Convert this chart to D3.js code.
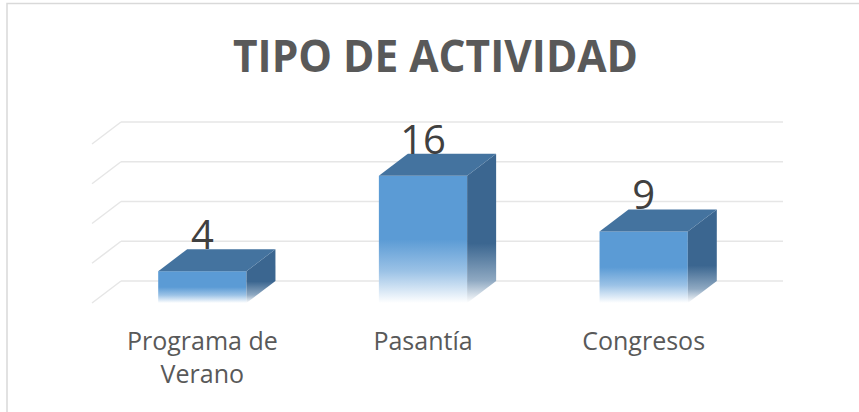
<!DOCTYPE html>
<html>
<head>
<meta charset="utf-8">
<script src="https://cdn.jsdelivr.net/npm/d3@7/dist/d3.min.js"></script>
<style>
  body { margin: 0; background: #fff; }
</style>
</head>
<body>
<div id="chart"></div>
<script>
// Chart data
var title = "TIPO DE ACTIVIDAD";
var categories = ["Programa de Verano", "Pasantía", "Congresos"];
var values = [4, 16, 9];
var gridTicks = [0, 5, 10, 15, 20];

function createBarChart3D() {

const width = 859, height = 412;
// depth offset of the fake 3d box (front face sits lower-left of the back wall)
const depthX = 29, depthY = 22;

var x = d3.scaleBand()
    .domain(categories)
    .range([92, 754])
    .paddingInner(0.6)
    .paddingOuter(0.3);

var y = d3.scaleLinear()
    .domain([0, 20])
    .range([281, 122]);

var svg = d3.select("#chart")
    .append("svg")
    .attr("width", width)
    .attr("height", height);

// Gradients for the faded bottoms
var defs = svg.append("defs");
var front = defs.append("linearGradient")
    .attr("id", "frontFade")
    .attr("x1", 0).attr("y1", 0).attr("x2", 0).attr("y2", 1);
front.append("stop").attr("offset", "0").attr("stop-color", "#5B9BD5");
front.append("stop").attr("offset", "0.5").attr("stop-color", "#5B9BD5");
front.append("stop").attr("offset", "0.75").attr("stop-color", "#9BC2E6");
front.append("stop").attr("offset", "1").attr("stop-color", "#FFFFFF");

var side = defs.append("linearGradient")
    .attr("id", "sideFade")
    .attr("x1", 0).attr("y1", 0).attr("x2", 0).attr("y2", 1);
side.append("stop").attr("offset", "0").attr("stop-color", "#3B6690");
side.append("stop").attr("offset", "0.6").attr("stop-color", "#3B6690");
side.append("stop").attr("offset", "0.85").attr("stop-color", "#8FA9C2");
side.append("stop").attr("offset", "1").attr("stop-color", "#FFFFFF");

// Chart area border (only top and left visible)
svg.append("path")
    .attr("d", "M7,412 L7,3.5 L859,3.5")
    .attr("fill", "none")
    .attr("stroke", "#D9D9D9")
    .attr("stroke-width", 1.5);

// Title
svg.append("text")
    .attr("x", 435.5)
    .attr("y", 72)
    .attr("text-anchor", "middle")
    .text(title)
    .style("font-family", "'Open Sans', sans-serif")
    .style("font-size", "44px")
    .style("font-weight", "bold")
    .style("fill", "#595959")
    .attr("textLength", 405)
    .attr("lengthAdjust", "spacingAndGlyphs");

var x0 = x.range()[0], x1 = x.range()[1];

// Back wall gridlines
svg.selectAll(".grid")
    .data(gridTicks)
    .enter().append("line")
    .attr("class", "grid")
    .attr("x1", x0 + depthX)
    .attr("x2", x1 + depthX)
    .attr("y1", function(d) { return y(d); })
    .attr("y2", function(d) { return y(d); })
    .attr("stroke", "#E6E6E6")
    .attr("stroke-width", 1.5);

// Side wall gridlines
svg.selectAll(".sidegrid")
    .data(gridTicks)
    .enter().append("line")
    .attr("class", "sidegrid")
    .attr("x1", x0 + depthX)
    .attr("x2", x0)
    .attr("y1", function(d) { return y(d); })
    .attr("y2", function(d) { return y(d) + depthY; })
    .attr("stroke", "#E6E6E6")
    .attr("stroke-width", 1.5);

var data = categories.map(function(c, i) { return { cat: c, value: values[i] }; });
var bw = x.bandwidth();

var bars = svg.selectAll(".bar")
    .data(data)
    .enter().append("g")
    .attr("class", "bar");

// front face
bars.append("rect")
    .attr("x", function(d) { return x(d.cat); })
    .attr("y", function(d) { return y(d.value) + depthY; })
    .attr("width", bw)
    .attr("height", function(d) { return y(0) - y(d.value); })
    .attr("fill", "url(#frontFade)");

// right side face
bars.append("polygon")
    .attr("points", function(d) {
        var xl = x(d.cat) + bw, yt = y(d.value);
        return [[xl, yt + depthY], [xl + depthX, yt], [xl + depthX, y(0)], [xl, y(0) + depthY]].join(" ");
    })
    .attr("fill", "url(#sideFade)");

// top face
bars.append("polygon")
    .attr("points", function(d) {
        var xl = x(d.cat), yt = y(d.value);
        return [[xl, yt + depthY], [xl + bw, yt + depthY], [xl + bw + depthX, yt], [xl + depthX, yt]].join(" ");
    })
    .attr("fill", "#44739F");

// data labels
svg.selectAll(".label")
    .data(data)
    .enter().append("text")
    .attr("class", "label")
    .attr("x", function(d) { return x(d.cat) + bw / 2; })
    .attr("y", function(d) { return y(d.value); })
    .attr("text-anchor", "middle")
    .text(function(d) { return d.value; })
    .style("font-family", "'Open Sans', sans-serif")
    .style("font-size", "40px")
    .style("fill", "#404040");

// category labels, wrapped
var catLabels = svg.selectAll(".cat")
    .data(categories)
    .enter().append("text")
    .attr("class", "cat")
    .attr("x", function(d) { return x(d) + bw / 2; })
    .attr("y", 350)
    .attr("text-anchor", "middle")
    .style("font-family", "'Open Sans', sans-serif")
    .style("font-size", "25px")
    .style("fill", "#595959")
    .text(function(d) { return d; });

catLabels.each(function(d) {
    var text = d3.select(this),
        words = d.split(" "),
        line = [],
        cx = text.attr("x");
    text.text(null);
    var tspan = text.append("tspan").attr("x", cx).attr("dy", 0);
    words.forEach(function(w) {
        line.push(w);
        tspan.text(line.join(" "));
        if (tspan.node().getComputedTextLength() > 195 && line.length > 1) {
            line.pop();
            tspan.text(line.join(" "));
            line = [w];
            tspan = text.append("tspan").attr("x", cx).attr("dy", "33px").text(w);
        }
    });
});

}
createBarChart3D();
</script>
</body>
</html>
